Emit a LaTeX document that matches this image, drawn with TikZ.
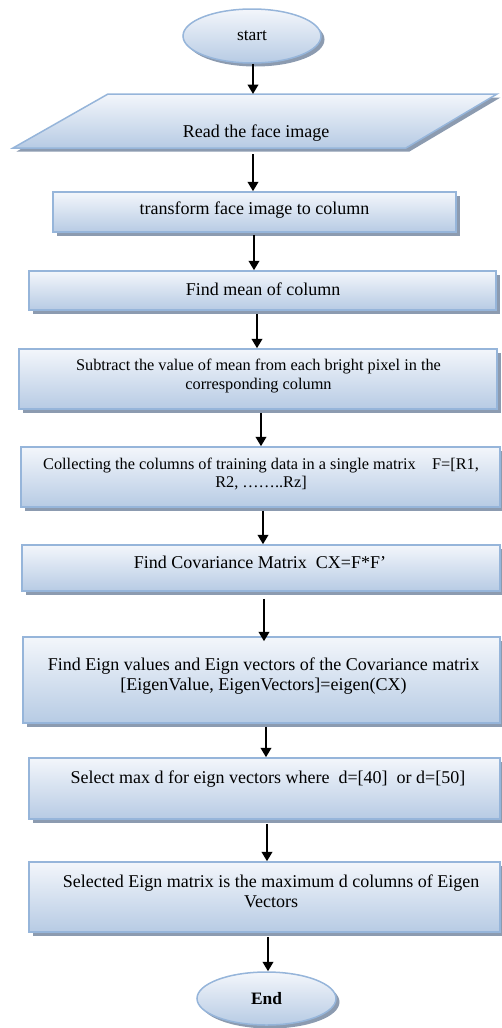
\documentclass[tikz,border=0pt]{standalone}
\usepackage{fontspec}
\setmainfont{Liberation Serif}
\usetikzlibrary{shapes.geometric,shadows,arrows.meta}
\definecolor{bordc}{RGB}{150,181,218}
\definecolor{topc}{RGB}{243,246,251}
\definecolor{botc}{RGB}{183,203,228}
\definecolor{shadc}{RGB}{140,155,176}
\tikzset{
 base/.style={draw=bordc, line width=1.5pt, top color=topc, bottom color=botc,
   drop shadow={shadow xshift=3.5pt, shadow yshift=-3.5pt, fill=shadc, opacity=1}},
 stepbox/.style={base, rectangle, inner sep=0pt},
 term/.style={base, ellipse, inner sep=0pt},
 txt/.style={align=center, inner sep=0pt, text=black},
 big/.style={font=\fontsize{18}{20.5}\selectfont},
 small/.style={font=\fontsize{16.3}{18.7}\selectfont},
 arr/.style={line width=2.6pt, -{Triangle[width=10.5pt,length=9.5pt]}},
}
\begin{document}
\begin{tikzpicture}[x=1pt,y=-1pt]
\useasboundingbox (0,0) rectangle (501,1028);
% shapes
\node[term, minimum width=138pt, minimum height=54pt] (start) at (252,36) {};
\path[base] (13,148) -- (108,94) -- (497,94) -- (406,148) -- cycle;
\coordinate (rdN) at (253,94);
\coordinate (rdS) at (253,148);
\node[stepbox, minimum width=403pt, minimum height=40pt] (b3) at (254.5,212) {};
\node[stepbox, minimum width=467pt, minimum height=39pt] (b4) at (262.5,290.5) {};
\node[stepbox, minimum width=478pt, minimum height=60pt] (b5) at (258,379) {};
\node[stepbox, minimum width=479pt, minimum height=60pt] (b6) at (260.5,477) {};
\node[stepbox, minimum width=478pt, minimum height=46pt] (b7) at (261,568) {};
\node[stepbox, minimum width=477pt, minimum height=86pt] (b8) at (261.5,680) {};
\node[stepbox, minimum width=471pt, minimum height=61pt] (b9) at (264.5,788.5) {};
\node[stepbox, minimum width=471pt, minimum height=70pt] (b10) at (264.5,897) {};
\node[term, minimum width=139pt, minimum height=53pt] (end) at (266.5,998.5) {};
% texts
\node[txt, font=\fontsize{17.4}{20}\selectfont] (t1) at (252,36) {start};
\node[txt, big] (t2) at (256,133) {Read the face image};
\node[txt, big] (t3) at (254.5,210) {transform face image to column};
\node[txt, big] (t4) at (263,289) {Find mean of column};
\node[txt, small] (t5) at (258.5,376) {Subtract the value of mean from each bright pixel in the\\corresponding column};
\node[txt, small] (t6) at (261,474) {Collecting the columns of training data in a single matrix \ \ \ F=[R1,\\R2, ……..Rz]};
\node[txt, big] (t7) at (260,562) {Find Covariance Matrix \ CX=F*F’};
\node[txt, big] (t8) at (263.5,676) {Find Eign values and Eign vectors of the Covariance matrix\\{}[EigenValue, EigenVectors]=eigen(CX)};
\node[txt, big] (t9) at (268,779) {Select max d for eign vectors where \ d=[40] \ or d=[50]};
\node[txt, big] (t10) at (271,891.5) {Selected Eign matrix is the maximum d columns of Eigen\\Vectors};
\node[txt, font=\fontsize{17.4}{20}\bfseries\selectfont] (t11) at (266.5,998.5) {End};
% connectors
\draw[arr] ([xshift=1pt]start.south) -- ([xshift=1pt]start.south |- rdN);
\draw[arr] ([yshift=-6pt]rdS) -- (rdS |- b3.north);
\draw[arr] ([xshift=-0.5pt,yshift=-2pt]b3.south) -- ([xshift=-0.5pt]b3.south |- b4.north);
\draw[arr] ([xshift=-5.5pt,yshift=-3pt]b4.south) -- ([xshift=-5.5pt]b4.south |- b5.north);
\draw[arr] ([xshift=3pt,yshift=-3pt]b5.south) -- ([xshift=3pt]b5.south |- b6.north);
\draw[arr] ([xshift=2.5pt,yshift=-3pt]b6.south) -- ([xshift=2.5pt]b6.south |- b7.north);
\draw[arr] ([xshift=3pt,yshift=-7pt]b7.south) -- ([xshift=3pt,yshift=-5pt]b7.south |- b8.north);
\draw[arr] ([xshift=4.5pt,yshift=-3pt]b8.south) -- ([xshift=4.5pt]b8.south |- b9.north);
\draw[arr] ([xshift=2.5pt,yshift=-4pt]b9.south) -- ([xshift=2.5pt]b9.south |- b10.north);
\draw[arr] ([xshift=3.5pt,yshift=-4pt]b10.south) -- ([xshift=3.5pt]b10.south |- end.north);
\end{tikzpicture}
\end{document}
